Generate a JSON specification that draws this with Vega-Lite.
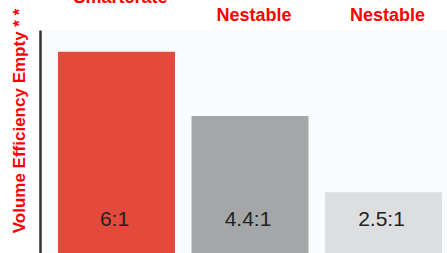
{
  "$schema": "https://vega.github.io/schema/vega-lite/v6.json",
  "width": 420,
  "height": 223,
  "autosize": {"type": "none"},
  "padding": {"left": 40, "top": 30, "right": 0, "bottom": 0},
  "background": "#ffffff",
  "config": {"view": {"stroke": null, "fill": "#FAFBFC"}, "font": "Liberation Sans"},
  "data": {
    "values": [
      {"product": "Smartcrate", "ratio": 6, "label": "6:1"},
      {"product": "Nestable (standard)", "ratio": 4.4, "label": "4.4:1"},
      {"product": "Nestable (basic)", "ratio": 2.5, "label": "2.5:1"}
    ]
  },
  "encoding": {
    "x": {
      "field": "product",
      "type": "nominal",
      "sort": null,
      "scale": {"paddingInner": 0.124, "paddingOuter": 0.135},
      "axis": {
        "orient": "top",
        "title": null,
        "domain": false,
        "ticks": false,
        "labelAngle": 0,
        "labelFont": "Liberation Sans",
        "labelFontSize": 18,
        "labelFontWeight": "bold",
        "labelColor": "#FF0000",
        "labelPadding": {"condition": {"test": "datum.value == 'Smartcrate'", "value": 24}, "value": 6},
        "labelOffset": 4,
        "labelBaseline": "bottom",
        "labelExpr": "split(datum.value, ' ')[0]"
      }
    }
  },
  "layer": [
    {
      "mark": {"type": "bar"},
      "encoding": {
        "y": {
          "field": "ratio",
          "type": "quantitative",
          "scale": {"domain": [0.99, 6.54], "zero": false, "nice": false},
          "axis": {
            "title": "Volume Efficiency Empty * *",
            "titleFont": "Liberation Sans",
            "titleFontSize": 17,
            "titleFontWeight": "bold",
            "titleColor": "#FF0000",
            "titleAngle": -90,
            "titleAlign": "center",
            "titleBaseline": "alphabetic",
            "titleX": -16,
            "titleY": 90.5,
            "labels": false,
            "ticks": false,
            "grid": false,
            "domain": true,
            "domainColor": "#333333",
            "domainWidth": 2.5
          }
        },
        "color": {
          "field": "product",
          "type": "nominal",
          "sort": null,
          "scale": {"range": ["#E34A3B", "#A4A6A7", "#DCDEDF"]},
          "legend": null
        }
      }
    },
    {
      "mark": {"type": "text", "fontSize": 21, "color": "#222222", "baseline": "middle", "dx": -2, "font": "Liberation Sans"},
      "encoding": {
        "y": {"datum": 1.8, "type": "quantitative"},
        "text": {"field": "label"}
      }
    }
  ]
}
